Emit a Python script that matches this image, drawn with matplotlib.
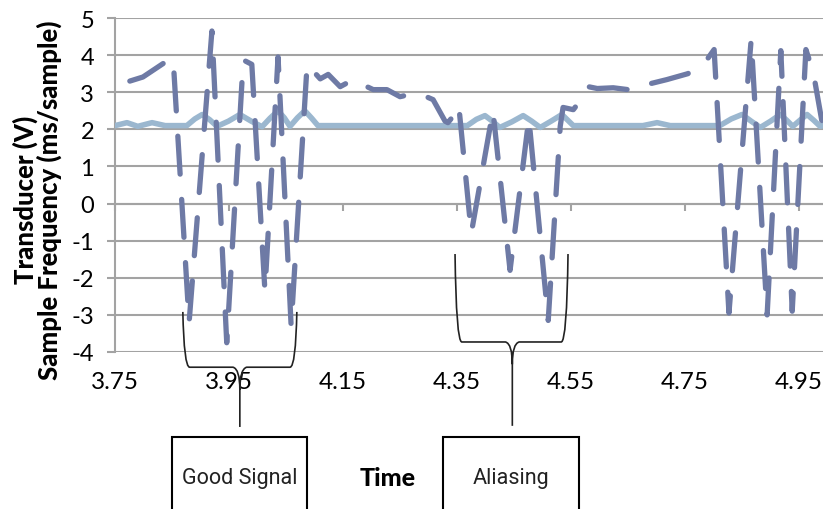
import matplotlib
matplotlib.use('Agg')
import matplotlib.pyplot as plt
from matplotlib.path import Path
from matplotlib.patches import PathPatch, Rectangle

plt.rcParams['font.family'] = ['Lato', 'DejaVu Sans']
plt.rcParams['axes.unicode_minus'] = False

# transducer signal (V)
transducer_time = [3.776, 3.799, 3.841, 3.852, 3.880, 3.920, 3.946, 3.975, 3.990, 4.013,
                   4.036, 4.059, 4.087, 4.110, 4.124, 4.145, 4.168, 4.185, 4.203, 4.227,
                   4.250, 4.273, 4.290, 4.308, 4.329, 4.334, 4.343, 4.353, 4.375, 4.413,
                   4.443, 4.476, 4.510, 4.531, 4.536, 4.554, 4.561, 4.580, 4.596, 4.624,
                   4.650, 4.689, 4.718, 4.755, 4.789, 4.801, 4.827, 4.866, 4.894, 4.918,
                   4.938, 4.962, 4.975, 4.992]
transducer_v = [3.30, 3.41, 3.84, 3.90, -3.20, 4.65, -3.75, 3.87, 3.75, -2.35,
                3.95, -3.30, 3.75, 3.36, 3.48, 3.15, 3.34, 3.20, 3.07, 3.07,
                2.88, 2.96, 2.92, 2.80, 2.22, 2.18, 2.35, 2.65, -0.80, 2.50,
                -1.80, 2.30, -3.15, 2.08, 2.59, 2.53, 2.67, 3.15, 3.10, 3.12,
                3.07, 3.23, 3.34, 3.50, 3.89, 4.15, -2.95, 4.42, -3.00, 4.12,
                -2.90, 4.15, 3.53, 2.05]

# sample frequency (ms/sample)
freq_time = [3.750, 3.771, 3.790, 3.815, 3.838, 3.876, 3.890, 3.903, 3.916, 3.929,
             3.949, 3.969, 3.989, 4.008, 4.022, 4.036, 4.047, 4.057, 4.070, 4.083,
             4.095, 4.106, 4.368, 4.384, 4.399, 4.412, 4.425, 4.446, 4.466, 4.481,
             4.496, 4.515, 4.534, 4.554, 4.676, 4.701, 4.724, 4.811, 4.831, 4.850,
             4.866, 4.882, 4.900, 4.917, 4.928, 4.939, 4.952, 4.964, 4.976, 4.987,
             4.992]
freq_ms = [2.10, 2.18, 2.08, 2.18, 2.10, 2.10, 2.28, 2.40, 2.26, 2.08,
           2.22, 2.40, 2.22, 2.07, 2.30, 2.50, 2.31, 2.08, 2.31, 2.50,
           2.30, 2.10, 2.10, 2.27, 2.37, 2.22, 2.05, 2.20, 2.37, 2.22,
           2.05, 2.22, 2.40, 2.10, 2.10, 2.18, 2.10, 2.10, 2.28, 2.40,
           2.22, 2.05, 2.22, 2.40, 2.25, 2.08, 2.25, 2.40, 2.24, 2.08,
           2.10]

x_ticks = [3.75, 3.95, 4.15, 4.35, 4.55, 4.75, 4.95]
x_ticklabels = ['3.75', '3.95', '4.15', '4.35', '4.55', '4.75', '4.95']
y_ticks = [-4, -3, -2, -1, 0, 1, 2, 3, 4, 5]

grid_col = '#a3a3a3'
dark = '#6e7aa5'
light = '#9bb7cf'

fig = plt.figure(figsize=(8.23, 5.10), dpi=100)
ax = fig.add_axes([115 / 823, 1 - 353 / 510, 1 - 115 / 823, (353 - 19) / 510])

ax.plot(freq_time, freq_ms, color=light, lw=4.0, solid_joinstyle='round',
        solid_capstyle='round', zorder=3)
ax.plot(transducer_time, transducer_v, color=dark, lw=3.8, linestyle=(0, (7.2, 4.8)),
        dash_capstyle='round', dash_joinstyle='round', zorder=4)

ax.set_xlim(3.75, 4.992)
ax.set_ylim(-4, 5)
ax.set_yticks(y_ticks)
ax.set_xticks(x_ticks)
ax.set_xticklabels(x_ticklabels)
ax.grid(axis='y', color=grid_col, lw=1.5)
ax.set_axisbelow(True)
for s in ['top', 'right', 'bottom']:
    ax.spines[s].set_visible(False)
ax.spines['left'].set_color(grid_col)
ax.spines['left'].set_linewidth(1.5)
ax.tick_params(axis='y', direction='out', length=6, width=1.5, color=grid_col,
               labelsize=17, pad=9)
ax.tick_params(axis='x', length=0, labelsize=17.5, pad=14)

# axis crosses at zero, tick marks there
sec = ax.secondary_xaxis(4 / 9)
sec.set_xticks(x_ticks)
sec.set_xticklabels([])
sec.spines['bottom'].set_color(grid_col)
sec.spines['bottom'].set_linewidth(1.5)
sec.tick_params(direction='out', length=5, width=1.5, color=grid_col)

fig.text(37 / 823, 1 - 200 / 510, 'Transducer (V)\nSample Frequency (ms/sample)',
         rotation=90, ha='center', va='center', fontsize=18.5, fontweight='black',
         linespacing=0.95, multialignment='center')


def brace(x0, x1, xm, y_top, y_bar, y_tip):
    dx = 0.012
    v = [(x0, y_top), (x0 + 0.002, y_bar), (x0 + dx, y_bar),
         (xm - dx, y_bar), (xm, y_bar - 0.05), (xm, y_bar - 0.6), (xm, y_tip),
         (xm, y_bar - 0.6), (xm, y_bar - 0.05), (xm + dx, y_bar),
         (x1 - dx, y_bar), (x1 - 0.002, y_bar), (x1, y_top)]
    c = [Path.MOVETO, Path.CURVE3, Path.CURVE3,
         Path.LINETO, Path.CURVE3, Path.CURVE3, Path.LINETO,
         Path.MOVETO, Path.CURVE3, Path.CURVE3,
         Path.LINETO, Path.CURVE3, Path.CURVE3]
    ax.add_patch(PathPatch(Path(v, c), fill=False, edgecolor='#222222', lw=1.2,
                           clip_on=False, zorder=6))


brace(3.869, 4.069, 3.969, -2.92, -4.41, -6.02)
brace(4.3465, 4.5447, 4.447, -1.36, -3.73, -5.99)

for x0, x1, label in [(3.850, 4.087, 'Good Signal'), (4.325, 4.564, 'Aliasing')]:
    ax.add_patch(Rectangle((x0, -9.5), x1 - x0, 3.21, fill=False, edgecolor='black',
                           lw=1.5, clip_on=False))
    ax.text((x0 + x1) / 2, -7.37, label, ha='center', va='center', fontsize=15.5,
            family=['Roboto', 'DejaVu Sans'], color='#222222', clip_on=False)

ax.text(4.229, -7.37, 'Time', ha='center', va='center', fontsize=18, fontweight='black')

fig.savefig('out.png', dpi=100)
